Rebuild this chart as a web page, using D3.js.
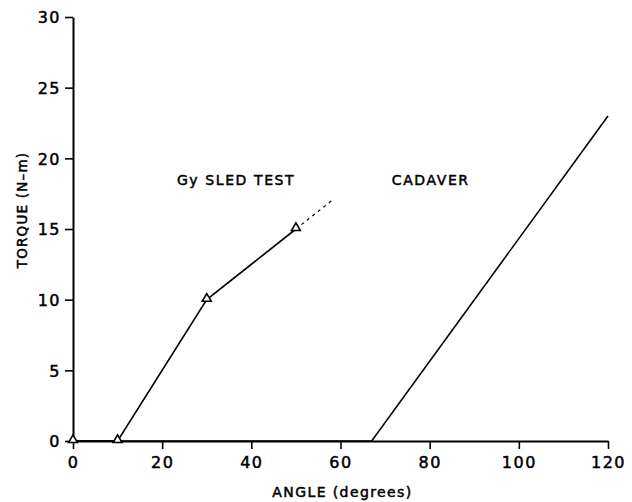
<!DOCTYPE html>
<html>
<head>
<meta charset="utf-8">
<script src="https://cdn.jsdelivr.net/npm/d3@7"></script>
<style>
  html, body { margin: 0; padding: 0; background: #fff; }
  svg { display: block; }
  text { font-family: "DejaVu Sans", sans-serif; fill: #000; stroke: #000; stroke-width: 0.5px; }
</style>
</head>
<body>
<svg id="chart" width="632" height="502"></svg>
<script>
// Torque vs angle: Gy sled test and cadaver response
const xTicks = [0, 20, 40, 60, 80, 100, 120];
const yTicks = [0, 5, 10, 15, 20, 25, 30];

const sledAngle  = [0, 10, 30, 50];
const sledTorque = [0, 0, 10, 15];
// dashed continuation beyond the last measured point
const sledExtAngle  = [50, 58];
const sledExtTorque = [15, 17];

const cadaverAngle  = [0, 67, 120];
const cadaverTorque = [0, 0, 23];

const labels = [
  { text: "Gy SLED TEST", angle: 23.3, torque: 18.1 },
  { text: "CADAVER",      angle: 71.5, torque: 18.1 }
];

const svg = d3.select("#chart");
const m = { left: 73, right: 24, top: 17, bottom: 61 };
const W = 632, H = 502;

const x = d3.scaleLinear().domain([0, 120]).range([m.left, W - m.right]);
const y = d3.scaleLinear().domain([0, 30]).range([H - m.bottom, m.top]);

const zip = (a, b) => a.map((v, i) => [v, b[i]]);
const line = d3.line().x(d => x(d[0])).y(d => y(d[1]));

// axes
const xAxis = svg.append("g")
  .attr("transform", `translate(0,${y(0)})`)
  .call(d3.axisBottom(x).tickValues(xTicks).tickSize(8).tickPadding(5).tickSizeOuter(0));
const yAxis = svg.append("g")
  .attr("transform", `translate(${x(0)},0)`)
  .call(d3.axisLeft(y).tickValues(yTicks).tickSize(8).tickPadding(4).tickSizeOuter(0));

[xAxis, yAxis].forEach(g => {
  g.select(".domain").attr("stroke", "#000").attr("stroke-width", 2);
  g.selectAll(".tick line").attr("stroke", "#000").attr("stroke-width", 1.6);
  g.selectAll(".tick text")
    .style("font-family", "'DejaVu Sans', sans-serif")
    .style("font-size", "16px")
    .style("letter-spacing", "1.5px")
    .attr("fill", "#000")
    .attr("stroke", "#000")
    .attr("stroke-width", 0.6);
});
xAxis.selectAll(".tick text").attr("dy", "0.9em");
yAxis.selectAll(".tick text").attr("dy", "0.36em");

// axis titles
svg.append("text")
  .attr("x", (x(0) + x(120)) / 2 + 2)
  .attr("y", 497)
  .attr("text-anchor", "middle")
  .style("font-size", "14px")
  .style("letter-spacing", "1.4px")
  .text("ANGLE (degrees)");

svg.append("text")
  .attr("transform", `translate(27,${210}) rotate(-90)`)
  .attr("text-anchor", "middle")
  .style("font-size", "13.5px")
  .style("letter-spacing", "1.2px")
  .text("TORQUE (N\u2013m)");

// data lines
svg.append("path")
  .attr("d", line(zip(cadaverAngle, cadaverTorque)))
  .attr("fill", "none").attr("stroke", "#000").attr("stroke-width", 1.6);

svg.append("path")
  .attr("d", line(zip(sledAngle, sledTorque)))
  .attr("fill", "none").attr("stroke", "#000").attr("stroke-width", 1.6);

svg.append("path")
  .attr("d", line(zip(sledExtAngle, sledExtTorque)))
  .attr("fill", "none").attr("stroke", "#000").attr("stroke-width", 1.2)
  .attr("stroke-dasharray", "3,4");

// triangle markers at sled test points
const tri = d3.symbol().type(d3.symbolTriangle).size(34);
svg.selectAll(".pt")
  .data(zip(sledAngle, sledTorque))
  .join("path")
  .attr("class", "pt")
  .attr("d", tri)
  .attr("transform", d => `translate(${x(d[0])},${y(d[1]) - 1})`)
  .attr("fill", "#fff").attr("stroke", "#000").attr("stroke-width", 1.6);

// series labels
svg.selectAll(".lbl")
  .data(labels)
  .join("text")
  .attr("class", "lbl")
  .attr("x", d => x(d.angle))
  .attr("y", d => y(d.torque))
  .style("font-size", "14px")
  .style("letter-spacing", "1.6px")
  .text(d => d.text);
</script>
</body>
</html>
